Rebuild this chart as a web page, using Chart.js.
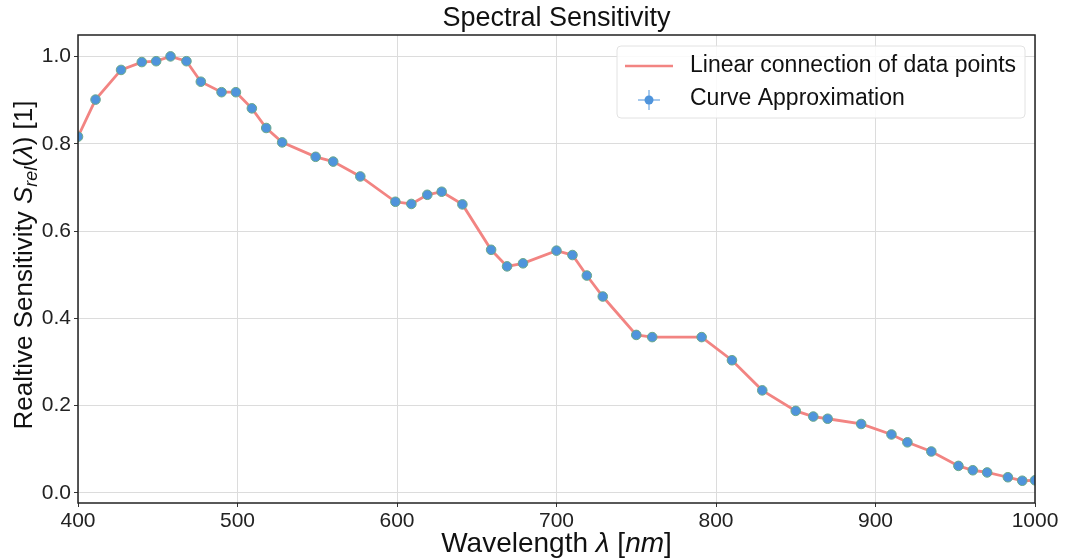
<!DOCTYPE html>
<html>
<head>
<meta charset="utf-8">
<script src="https://cdn.jsdelivr.net/npm/chart.js@4/dist/chart.umd.min.js"></script>
<style>
  html, body { margin: 0; padding: 0; background: #fff; }
  #wrap { width: 1068px; height: 560px; }
</style>
</head>
<body>
<div id="wrap"><canvas id="chart" width="1068" height="560"></canvas></div>
<script>
// ---- data ----
const wavelengths = [400, 411, 427, 440, 449, 458, 468, 477, 490, 499,
  509, 518, 528, 549, 560, 577, 599, 609, 619, 628,
  641, 659, 669, 679, 700, 710, 719, 729, 750, 760,
  791, 810, 829, 850, 861, 870, 891, 910, 920, 935,
  952, 961, 970, 983, 992, 1000];
const sensitivity = [0.816, 0.901, 0.969, 0.987, 0.989, 1.000, 0.989, 0.942, 0.918, 0.918,
  0.881, 0.836, 0.803, 0.770, 0.759, 0.725, 0.667, 0.662, 0.683, 0.690,
  0.661, 0.557, 0.519, 0.526, 0.555, 0.545, 0.498, 0.450, 0.362, 0.357,
  0.357, 0.304, 0.235, 0.188, 0.175, 0.170, 0.158, 0.134, 0.116, 0.095,
  0.062, 0.052, 0.047, 0.036, 0.028, 0.029];
const xTicks = [400, 500, 600, 700, 800, 900, 1000];
const yTicks = [0.0, 0.2, 0.4, 0.6, 0.8, 1.0];
const seriesNames = ['Linear connection of data points', 'Curve Approximation'];

const FONT = '"Liberation Sans", Arial, sans-serif';
const LINE_COLOR = '#f28482';
const POINT_COLOR = '#4f94dc';
const POINT_EDGE = '#6aa88a';

const points = wavelengths.map((w, i) => ({ x: w, y: sensitivity[i] }));

// draw a string made of runs (normal / italic / subscript), centred on (cx, cy)
function drawRuns(ctx, runs, cx, cy, size, angle) {
    const fontFor = r => `${r.italic ? 'italic ' : ''}${r.sub ? Math.round(size * 0.7) : size}px ${FONT}`;
    let total = 0;
    runs.forEach(r => { ctx.font = fontFor(r); total += ctx.measureText(r.text).width; });
    ctx.save();
    ctx.translate(cx, cy);
    ctx.rotate(angle);
    ctx.fillStyle = '#111';
    ctx.textBaseline = 'middle';
    ctx.textAlign = 'left';
    let x = -total / 2;
    runs.forEach(r => {
        ctx.font = fontFor(r);
        ctx.fillText(r.text, x, r.sub ? size * 0.28 : 0);
        x += ctx.measureText(r.text).width;
    });
    ctx.restore();
}

const decorations = {
    id: 'decorations',
    afterDraw(chart) {
        const { ctx, chartArea: a } = chart;
        // frame
        ctx.save();
        ctx.strokeStyle = '#222';
        ctx.lineWidth = 1.5;
        ctx.strokeRect(a.left, a.top, a.right - a.left, a.bottom - a.top);
        ctx.restore();

        // title
        drawRuns(ctx, [{ text: 'Spectral Sensitivity' }], (a.left + a.right) / 2, 19, 27, 0);

        // x axis label
        drawRuns(ctx, [
            { text: 'Wavelength ' }, { text: 'λ', italic: true },
            { text: ' [' }, { text: 'nm', italic: true }, { text: ']' }
        ], (a.left + a.right) / 2, 544, 28, 0);

        // y axis label
        drawRuns(ctx, [
            { text: 'Realtive Sensitivity ' }, { text: 'S', italic: true },
            { text: 'rel', italic: true, sub: true }, { text: '(' },
            { text: 'λ', italic: true }, { text: ') [1]' }
        ], 25, 265, 26, -Math.PI / 2);

        // legend
        const lx = 617, ly = 46, lw = 408, lh = 72;
        ctx.save();
        ctx.fillStyle = 'rgba(255,255,255,0.85)';
        ctx.strokeStyle = '#e2e2e2';
        ctx.lineWidth = 1;
        ctx.beginPath();
        ctx.roundRect(lx, ly, lw, lh, 4);
        ctx.fill();
        ctx.stroke();

        ctx.strokeStyle = LINE_COLOR;
        ctx.lineWidth = 2.5;
        ctx.beginPath();
        ctx.moveTo(625, 66);
        ctx.lineTo(673, 66);
        ctx.stroke();

        ctx.strokeStyle = POINT_COLOR;
        ctx.lineWidth = 1;
        ctx.beginPath();
        ctx.moveTo(638, 100); ctx.lineTo(660, 100);
        ctx.moveTo(649, 90); ctx.lineTo(649, 110);
        ctx.stroke();
        ctx.fillStyle = POINT_COLOR;
        ctx.beginPath();
        ctx.arc(649, 100, 4.5, 0, Math.PI * 2);
        ctx.fill();
        ctx.restore();

        ctx.save();
        ctx.fillStyle = '#111';
        ctx.font = `23px ${FONT}`;
        ctx.textBaseline = 'middle';
        ctx.fillText(seriesNames[0], 690, 66);
        ctx.fillText(seriesNames[1], 690, 99);
        ctx.restore();
    }
};

new Chart(document.getElementById('chart').getContext('2d'), {
    type: 'scatter',
    data: {
        datasets: [{
            label: seriesNames[0],
            data: points,
            showLine: true,
            borderColor: LINE_COLOR,
            borderWidth: 2.8,
            pointRadius: 0,
            clip: 0,
            order: 2,
        }, {
            label: seriesNames[1],
            data: points,
            showLine: false,
            backgroundColor: POINT_COLOR,
            borderColor: POINT_EDGE,
            borderWidth: 1,
            pointRadius: 4.8,
            clip: 0,
            order: 1,
        }],
    },
    options: {
        responsive: false,
        animation: false,
        layout: { padding: { left: 0, right: 33, top: 35, bottom: 0 } },
        plugins: {
            legend: { display: false },
            tooltip: { enabled: false },
        },
        scales: {
            x: {
                type: 'linear',
                min: 400,
                max: 1000,
                afterFit: s => { s.height = 57; },
                afterBuildTicks: s => { s.ticks = xTicks.map(v => ({ value: v })); },
                ticks: { color: '#222', font: { family: FONT, size: 21 }, padding: 2, callback: v => String(v) },
                grid: { color: '#dcdcdc', lineWidth: 1, tickLength: 4, tickColor: '#333' },
                border: { display: false },
            },
            y: {
                min: -0.023,
                max: 1.049,
                afterFit: s => { s.width = 78; },
                afterBuildTicks: s => { s.ticks = yTicks.map(v => ({ value: v })); },
                ticks: { color: '#222', font: { family: FONT, size: 21 }, padding: 3, callback: v => v.toFixed(1) },
                grid: { color: '#dcdcdc', lineWidth: 1, tickLength: 4, tickColor: '#333' },
                border: { display: false },
            },
        },
    },
    plugins: [decorations],
});
</script>
</body>
</html>
